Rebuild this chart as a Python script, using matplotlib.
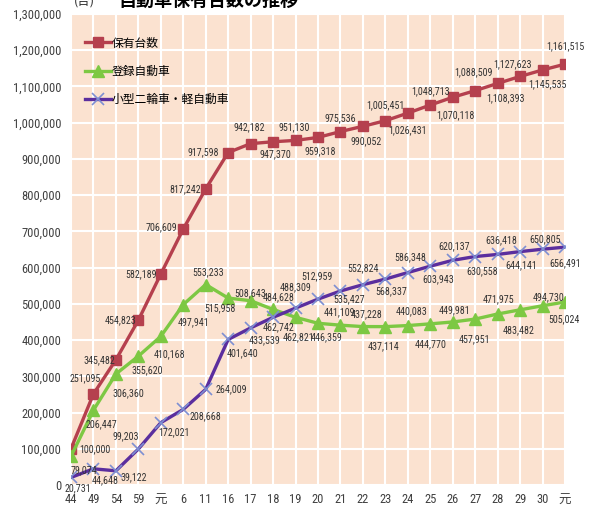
import matplotlib
matplotlib.use('Agg')
import matplotlib.pyplot as plt
from matplotlib import font_manager

# 細めのフォントがあれば使う
names = {f.name for f in font_manager.fontManager.ttflist}
narrow = next((n for n in ['Liberation Sans Narrow', 'Roboto Condensed', 'Open Sans Condensed']
               if n in names), None)
if narrow:
    plt.rcParams['font.family'] = [narrow, 'Noto Sans CJK JP', 'DejaVu Sans']
    label_size, tick_size = 7.2, 9
else:
    plt.rcParams['font.family'] = ['Liberation Sans', 'Noto Sans CJK JP', 'DejaVu Sans']
    label_size, tick_size = 6.3, 8

# 年次(昭和44〜平成元〜令和元)
years = ['44', '49', '54', '59', '元', '6', '11', '16', '17', '18', '19', '20',
         '21', '22', '23', '24', '25', '26', '27', '28', '29', '30', '元']

# 保有台数
total = [100000, 251095, 345482, 454823, 582189, 706609, 817242, 917598, 942182,
         947370, 951130, 959318, 975536, 990052, 1005451, 1026431, 1048713,
         1070118, 1088509, 1108393, 1127623, 1145535, 1161515]
# 登録自動車
registered = [79074, 206447, 306360, 355620, 410168, 497941, 553233, 515958, 508643,
              484628, 462821, 446359, 441109, 437228, 437114, 440083, 444770,
              449981, 457951, 471975, 483482, 494730, 505024]
# 小型二輪車・軽自動車
light = [20731, 44648, 39122, 99203, 172021, 208668, 264009, 401640, 433539,
         462742, 488309, 512959, 535427, 552824, 568337, 586348, 603943,
         620137, 630558, 636418, 644141, 650805, 656491]

# ラベルの位置 (ピクセル単位のずれ)
total_off = [(24, 0), (-8, 16), (-17, 0), (-18, 0), (-20, 0), (-22, 2), (-21, 0), (-25, 0),
             (-1, 16), (2, -12), (-1, 13), (2, -14), (0, 13), (3, -15), (0, 16), (0, -17),
             (0, 14), (3, -18), (-2, 18), (8, -15), (-8, 12), (5, -14), (0, 18)]
reg_off = [(13, -14), (8, -14), (12, -19), (9, -14), (9, -18), (10, -18), (2, 12), (-8, -10),
           (0, 8), (6, 12), (3, -20), (9, -14), (-1, 13), (4, 12), (-2, -20), (4, 14),
           (0, -20), (2, 12), (-1, -20), (1, 15), (-1, -20), (6, 9), (-1, -17)]
light_off = [(7, -11), (12, -11), (18, -6), (-13, 13), (13, -10), (22, -7), (26, 0), (14, -14),
             (14, -12), (5, -10), (0, 21), (-1, 23), (9, -8), (0, 16), (6, -12), (2, 15),
             (8, -13), (1, 14), (7, -15), (4, 14), (1, -14), (3, 10), (0, -16)]

red = '#B5404E'
green = '#7DC843'
purple = '#5B2E9E'

fig = plt.figure(figsize=(5.9, 5.11), dpi=100)
ax = fig.add_axes([0.1203, 0.0509, 0.8373, 0.9217])
ax.set_facecolor('#FBE2D0')

x = list(range(len(years)))
ax.plot(x, total, color=red, lw=2.4, marker='s', markersize=7.5, label='保有台数')
ax.plot(x, registered, color=green, lw=2.4, marker='^', markersize=8, label='登録自動車')
ax.plot(x, light, color=purple, lw=2.4, marker='x', markersize=8, markeredgecolor='#7D8FD2',
        markeredgewidth=1.2, label='小型二輪車・軽自動車')

for vals, offs in [(total, total_off), (registered, reg_off), (light, light_off)]:
    for i, (v, o) in enumerate(zip(vals, offs)):
        ax.annotate(f'{v:,}', (i, v), xytext=o, textcoords='offset pixels',
                    ha='center', va='center', fontsize=label_size, color='#333333',
                    annotation_clip=False)

ax.set_xlim(0, len(years) - 1)
ax.set_ylim(0, 1300000)
ax.set_xticks(x)
ax.set_xticklabels(years, fontsize=9)
ax.set_yticks(range(0, 1300001, 100000))
ax.set_yticklabels([f'{v:,}' for v in range(0, 1300001, 100000)], fontsize=tick_size)
ax.tick_params(length=0, colors='#404040')
ax.tick_params(axis='y', pad=7)
ax.tick_params(axis='x', pad=6)
ax.grid(True, color='white', lw=1.5)
ax.set_axisbelow(True)
for s in ax.spines.values():
    s.set_visible(False)

ax.legend(loc='upper left', bbox_to_anchor=(0.018, 0.962), frameon=False,
          prop={'family': ['Noto Sans CJK JP'], 'size': 8.5},
          handlelength=2.2, handletextpad=0.1, labelspacing=1.3, borderaxespad=0)

fig.text(0.2, 1.0, '自動車保有台数の推移', fontsize=13, fontweight='bold',
         ha='left', va='center', family=['Noto Sans CJK JP'])
fig.text(0.125, 0.996, '(台)', fontsize=9, ha='left', va='center', color='#333333',
         family=['Noto Sans CJK JP'])

fig.savefig('out.png', dpi=100)
